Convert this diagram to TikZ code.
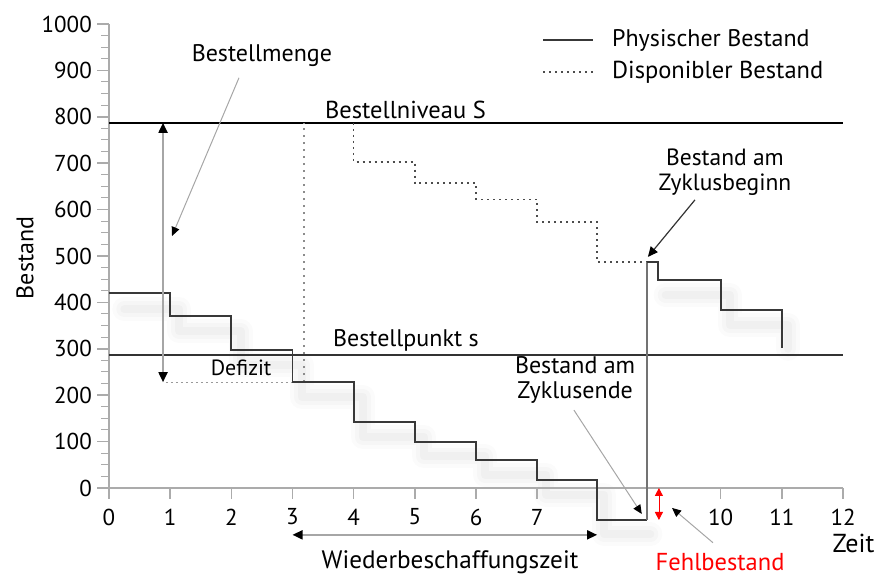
\documentclass[tikz,border=0pt]{standalone}
\usepackage{fontspec}
\setmainfont{PT Sans}
\usetikzlibrary{arrows.meta}
\begin{document}
\begin{tikzpicture}[x=61.17pt,y=0.464pt,
  every node/.style={font=\fontsize{24}{25}\selectfont, inner sep=0pt},
  ticklabel/.style={font=\fontsize{23}{25}\selectfont},
  axisline/.style={draw=black!33, line width=2pt},
  majtick/.style={draw=black!33, line width=1.5pt},
  mintick/.style={draw=black!33, line width=1pt},
  phys/.style={draw=black!78, line width=1.7pt},
  receipt/.style={draw=black!55, line width=2.6pt},
  dispo/.style={draw=black!70, line width=1.5pt, dash pattern=on 2pt off 4pt},
  orderdot/.style={draw=black!45, line width=2pt, dash pattern=on 2pt off 5pt},
  defdot/.style={draw=black!40, line width=1pt, dash pattern=on 2pt off 3pt},
  level/.style={draw=black, line width=2pt},
  levelb/.style={draw=black!80, line width=1.8pt},
  pointer/.style={draw=black!35, line width=1pt, -{Triangle[length=9pt,width=8pt,color=black]}},
  pointerd/.style={draw=black!80, line width=1.2pt, -{Triangle[length=10pt,width=9pt,color=black]}},
  dimarrow/.style={draw=black!35, line width=1.8pt, {Triangle[length=10pt,width=9pt,color=black]}-{Triangle[length=10pt,width=9pt,color=black]}},
  redarrow/.style={draw=red, line width=0.8pt, {Triangle[length=8pt,width=8pt]}-{Triangle[length=8pt,width=8pt]}},
  shadowA/.style={draw=black, opacity=0.015, line width=24pt, line join=round, line cap=round},
  shadowB/.style={draw=black, opacity=0.02, line width=16pt, line join=round, line cap=round},
  shadowC/.style={draw=black, opacity=0.025, line width=8pt, line join=round, line cap=round},
]
\useasboundingbox (-1.782,-191.8) rectangle (12.539,1051.7);

% soft shadows
\foreach \s in {shadowA,shadowB,shadowC}{
\draw[\s] (0.25,385) -- (1.15,385) -- (1.15,338) -- (2.15,338) -- (2.15,265) -- (3.15,265) -- (3.15,196) -- (4.15,196) -- (4.15,110) -- (5.15,110) -- (5.15,68) -- (6.15,68) -- (6.15,28) -- (7.15,28) -- (7.15,-15) -- (8.1,-15) -- (8.1,-100) -- (8.85,-100);
\draw[\s] (9.1,416) -- (10.15,416) -- (10.15,351) -- (11.1,351) -- (11.1,300);
}

% axes
\draw[axisline] (-0.196,0) -- (12,0);
\draw[axisline] (0,0) -- (0,1000);
\foreach \v in {0,100,...,1000} \draw[majtick] (-0.196,\v) -- (0,\v);
\foreach \v in {25,50,75,125,150,175,225,250,275,325,350,375,425,450,475,525,550,575,625,650,675,725,750,775,825,850,875,925,950,975}
  \draw[mintick] (-0.13,\v) -- (0,\v);
\foreach \t in {0,1,2,3,4,5,6,7,10,11,12} \draw[majtick] (\t,0) -- (\t,-24);
\foreach \v in {0,100,...,1000} \node[ticklabel, anchor=east] (yl\v) at (-0.278,\v) {\v};
\foreach \t in {0,1,2,3,4,5,6,7,10,11,12} \node[ticklabel] (xl\t) at (\t,-62.5) {\t};

% levels
\draw[level] (0,787) -- (12,787);
\draw[levelb] (0,287) -- (12,287);
\node[anchor=west, font=\fontsize{24.5}{26}\selectfont] (lS) at (3.53,815) {Bestellniveau S};
\node[anchor=west] (ls) at (3.66,319) {Bestellpunkt s};

% disponible stock
\draw[orderdot] (3.19,228) -- (3.19,787);
\draw[defdot] (0.93,228) -- (3,228);
\draw[dispo] (4,787) -- (4,703) -- (5,703) -- (5,657) -- (6,657) -- (6,622) -- (7,622) -- (7,573) -- (7.98,573) -- (7.98,487) -- (8.8,487);

% physical stock
\draw[phys] (0,420) -- (1,420) -- (1,371) -- (2,371) -- (2,297) -- (3,297) -- (3,228) -- (4,228) -- (4,142) -- (5,142) -- (5,99) -- (6,99) -- (6,60) -- (7,60) -- (7,17) -- (7.98,17) -- (7.98,-69) -- (8.795,-69);
\draw[receipt] (8.795,-69) -- (8.795,487);
\draw[phys] (8.795,487) -- (8.97,487) -- (8.97,448) -- (10,448) -- (10,383) -- (11,383) -- (11,302);

% Bestellmenge
\coordinate (bmtop) at (0.883,787);
\coordinate (bmbot) at (0.883,228);
\draw[dimarrow] (bmbot) -- (bmtop);
\node (bm) at (2.50,933) {Bestellmenge};
\coordinate (bmp1) at (2.125,884);
\coordinate (bmp2) at (1.03,543);
\draw[pointer] (bmp1) -- (bmp2);

\node[font=\fontsize{22}{24}\selectfont] (def) at (2.16,259) {Defizit};

% Zyklusende
\node[align=center, font=\fontsize{24}{24.5}\selectfont] (ze) at (7.62,233) {Bestand am\\Zyklusende};
\coordinate (zep1) at (7.60,168);
\coordinate (zep2) at (8.71,-56);
\draw[pointer] (zep1) -- (zep2);

% Zyklusbeginn
\node[align=center, font=\fontsize{23.5}{24.5}\selectfont] (zb) at (10.07,681) {Bestand am\\Zyklusbeginn};
\coordinate (zbp1) at (9.58,621);
\coordinate (zbp2) at (8.81,498);
\draw[pointerd] (zbp1) -- (zbp2);

% Fehlbestand
\coordinate (fa) at (8.99,0);
\coordinate (fb) at (8.99,-69);
\draw[redarrow] (fa) -- (fb);
\node[text=red, font=\fontsize{24.5}{26}\selectfont] (fb-l) at (9.99,-159.5) {Fehlbestand};
\coordinate (fp1) at (9.874,-118);
\coordinate (fp2) at (9.204,-43);
\draw[pointer] (fp1) -- (fp2);

% Wiederbeschaffungszeit
\coordinate (wa) at (3,-101);
\coordinate (wb) at (7.98,-101);
\draw[dimarrow] (wa) -- (wb);
\node[font=\fontsize{25.2}{26}\selectfont] (wbz) at (5.575,-159.5) {Wiederbeschaffungszeit};

% axis titles
\node[rotate=90, font=\fontsize{24}{28}\selectfont] (ylab) at (-1.373,496) {Bestand};
\node[font=\fontsize{26}{28}\selectfont] (zeit) at (12.17,-118.5) {Zeit};

% legend
\coordinate (lg1a) at (7.095,965.5);
\coordinate (lg1b) at (7.912,965.5);
\draw[phys] (lg1a) -- (lg1b);
\node[anchor=west] (lgt1) at (8.223,965.5) {Physischer Bestand};
\coordinate (lg2a) at (7.095,896.6);
\coordinate (lg2b) at (7.912,896.6);
\draw[dispo] (lg2a) -- (lg2b);
\node[anchor=west, font=\fontsize{24.5}{26}\selectfont] (lgt2) at (8.223,896.6) {Disponibler Bestand};
\end{tikzpicture}
\end{document}
